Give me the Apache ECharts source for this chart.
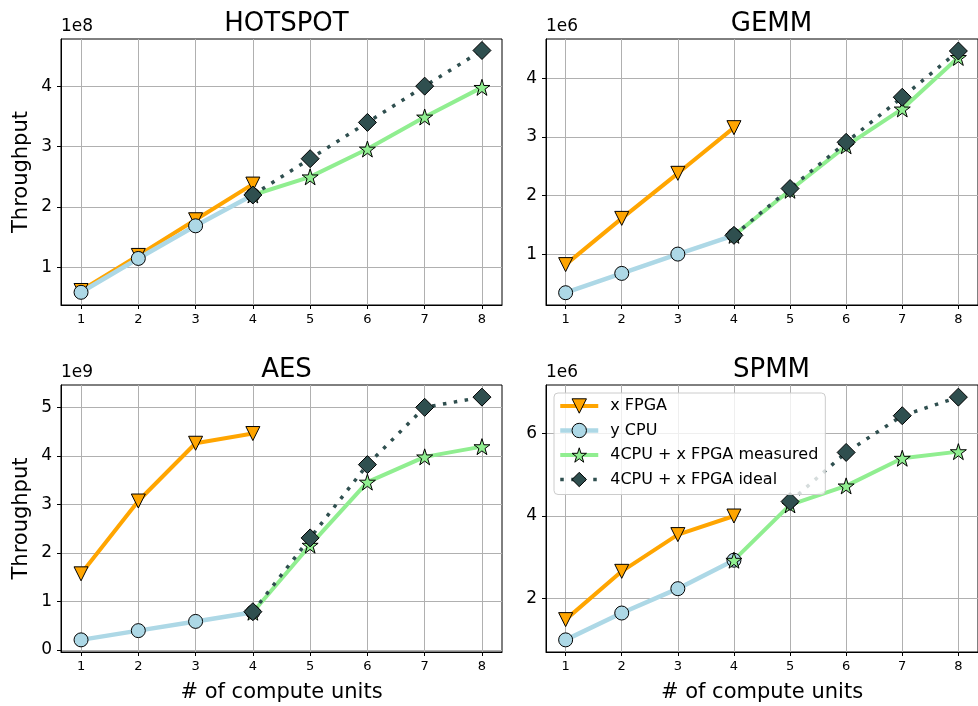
<!DOCTYPE html>
<html>
<head>
<meta charset="utf-8">
<script src="https://cdn.jsdelivr.net/npm/echarts@6/dist/echarts.min.js"></script>
<style>
  html, body { margin: 0; padding: 0; background: #fff; }
  #chart { width: 978px; height: 706px; }
</style>
</head>
<body>
<div id="chart"></div>
<script>
// x = number of compute units
const units = [1, 2, 3, 4, 5, 6, 7, 8]
const unitTicks = [1, 2, 3, 4, 5, 6, 7, 8]

// HOTSPOT (x1e8)
const hotspotFpga = [0.62, 1.2, 1.79, 2.38, null, null, null, null]
const hotspotCpu = [0.59, 1.15, 1.69, 2.2, null, null, null, null]
const hotspotMeasured = [null, null, null, 2.2, 2.5, 2.96, 3.49, 3.98]
const hotspotIdeal = [null, null, null, 2.2, 2.8, 3.4, 4.0, 4.59]
const hotspotTicks = [1, 2, 3, 4]

// GEMM (x1e6)
const gemmFpga = [0.82, 1.61, 2.38, 3.16, null, null, null, null]
const gemmCpu = [0.34, 0.67, 1.0, 1.32, null, null, null, null]
const gemmMeasured = [null, null, null, 1.32, 2.09, 2.85, 3.48, 4.36]
const gemmIdeal = [null, null, null, 1.32, 2.12, 2.91, 3.68, 4.47]
const gemmTicks = [1, 2, 3, 4]

// AES (x1e9)
const aesFpga = [1.57, 3.07, 4.26, 4.46, null, null, null, null]
const aesCpu = [0.21, 0.4, 0.59, 0.78, null, null, null, null]
const aesMeasured = [null, null, null, 0.78, 2.16, 3.46, 3.98, 4.19]
const aesIdeal = [null, null, null, 0.79, 2.31, 3.82, 5.0, 5.21]
const aesTicks = [0, 1, 2, 3, 4, 5]

// SPMM (x1e6)
const spmmFpga = [1.49, 2.66, 3.55, 4.0, null, null, null, null]
const spmmCpu = [1.0, 1.65, 2.24, 2.93, null, null, null, null]
const spmmMeasured = [null, null, null, 2.93, 4.27, 4.73, 5.4, 5.56]
const spmmIdeal = [null, null, null, null, 4.35, 5.54, 6.43, 6.88]
const spmmTicks = [2, 4, 6]

const FONT = 'DejaVu Sans'
const STAR = 'path://M50 0 L61.23 34.55 L97.55 34.55 L68.17 55.9 L79.39 90.45 L50 69.1 L20.61 90.45 L31.83 55.9 L2.45 34.55 L38.77 34.55 Z'

const panels = [
  { title: 'HOTSPOT', scale: '1e8', left: 61, top: 39, h: 266, min: 0.38, max: 4.78, split: 5, ticks: hotspotTicks,
    fpga: hotspotFpga, cpu: hotspotCpu, measured: hotspotMeasured, ideal: hotspotIdeal, yName: true, xName: false },
  { title: 'GEMM', scale: '1e6', left: 546, top: 39, h: 266, min: 0.13, max: 4.675, split: 5, ticks: gemmTicks,
    fpga: gemmFpga, cpu: gemmCpu, measured: gemmMeasured, ideal: gemmIdeal, yName: false, xName: false },
  { title: 'AES', scale: '1e9', left: 61, top: 385, h: 267, min: -0.04, max: 5.46, split: 5, ticks: aesTicks,
    fpga: aesFpga, cpu: aesCpu, measured: aesMeasured, ideal: aesIdeal, yName: true, xName: true },
  { title: 'SPMM', scale: '1e6', left: 546, top: 385, h: 267, min: 0.706, max: 7.174, split: 3, ticks: spmmTicks,
    fpga: spmmFpga, cpu: spmmCpu, measured: spmmMeasured, ideal: spmmIdeal, yName: false, xName: true }
]
const W = 441

const styles = {
  fpga: { color: '#ffa500', width: 4, type: 'solid' },
  cpu: { color: '#add8e6', width: 4.5, type: 'solid' },
  measured: { color: '#90ee90', width: 4, type: 'solid' },
  ideal: { color: '#2f4f4f', width: 3.5, type: [3.5, 7.5] }
}

function pairs (arr) {
  return units.map((x, i) => [x, arr[i]]).filter(d => d[1] != null)
}

const grid = []
const xAxis = []
const yAxis = []
const title = []
const graphic = []
const series = []

panels.forEach((p, i) => {
  grid.push({
    left: p.left, top: p.top, width: W, height: p.h,
    show: true, borderColor: '#000', borderWidth: 1, backgroundColor: 'transparent'
  })
  title.push({
    text: p.title, left: p.left + W / 2, top: p.top - 33, textAlign: 'center',
    textStyle: { fontFamily: FONT, fontSize: 26, fontWeight: 'normal', color: '#000' }
  })
  xAxis.push({
    type: 'value', gridIndex: i, min: 0.65, max: 8.35, splitNumber: 8,
    name: p.xName ? '# of compute units' : '',
    nameLocation: 'middle', nameGap: 30,
    nameTextStyle: { fontFamily: FONT, fontSize: 21, color: '#000' },
    axisLine: { onZero: false, lineStyle: { color: '#000', width: 1 } },
    axisTick: { show: true, length: 4, customValues: unitTicks, lineStyle: { color: '#000' } },
    axisLabel: { customValues: unitTicks, margin: 8, fontFamily: FONT, fontSize: 13, color: '#000' },
    splitLine: { show: true, lineStyle: { color: '#b0b0b0', width: 1 } }
  })
  yAxis.push({
    type: 'value', gridIndex: i, min: p.min, max: p.max, splitNumber: p.split,
    name: p.scale, nameLocation: 'end', nameGap: 4,
    nameTextStyle: { fontFamily: FONT, fontSize: 17, color: '#000', align: 'left', verticalAlign: 'bottom' },
    axisLine: { show: true, onZero: false, lineStyle: { color: '#000', width: 1 } },
    axisTick: { show: true, length: 4, customValues: p.ticks, lineStyle: { color: '#000' } },
    axisLabel: { customValues: p.ticks, margin: 9, fontFamily: FONT, fontSize: 17, color: '#000' },
    splitLine: { show: true, lineStyle: { color: '#b0b0b0', width: 1 } }
  })
  if (p.yName) {
    graphic.push({
      type: 'text', x: 22, y: p.top + p.h / 2, rotation: Math.PI / 2,
      style: { text: 'Throughput', fill: '#000', font: '21px "DejaVu Sans"', align: 'center', verticalAlign: 'middle' }
    })
  }
  series.push(
    {
      name: 'x FPGA', type: 'line', xAxisIndex: i, yAxisIndex: i, data: pairs(p.fpga),
      lineStyle: styles.fpga,
      symbol: 'triangle', symbolRotate: 180, symbolSize: 14,
      itemStyle: { color: '#ffa500', borderColor: '#000', borderWidth: 1 }
    },
    {
      name: 'y CPU', type: 'line', xAxisIndex: i, yAxisIndex: i, data: pairs(p.cpu),
      lineStyle: styles.cpu,
      symbol: 'circle', symbolSize: 14,
      itemStyle: { color: '#add8e6', borderColor: '#000', borderWidth: 1 }
    },
    {
      name: '4CPU + x FPGA measured', type: 'line', xAxisIndex: i, yAxisIndex: i, data: pairs(p.measured),
      lineStyle: styles.measured,
      symbol: STAR, symbolSize: 16,
      itemStyle: { color: '#90ee90', borderColor: '#000', borderWidth: 1 }
    },
    {
      name: '4CPU + x FPGA ideal', type: 'line', xAxisIndex: i, yAxisIndex: i, data: pairs(p.ideal),
      lineStyle: styles.ideal,
      symbol: 'diamond', symbolSize: 18,
      itemStyle: { color: '#2f4f4f', borderColor: '#000', borderWidth: 1 }
    }
  )
})

const chart = echarts.init(document.getElementById('chart'))
chart.setOption({
  animation: false,
  backgroundColor: '#fff',
  textStyle: { fontFamily: FONT },
  title: title,
  graphic: graphic,
  grid: grid,
  xAxis: xAxis,
  yAxis: yAxis,
  legend: {
    orient: 'vertical', left: 554, top: 393,
    itemWidth: 38, itemHeight: 18, itemGap: 8.5,
    padding: [5, 7, 7, 4],
    backgroundColor: 'rgba(255,255,255,0.8)', borderColor: '#cccccc', borderWidth: 1, borderRadius: 4,
    itemStyle: { borderWidth: 1, borderColor: '#000' },
    textStyle: { fontFamily: FONT, fontSize: 16, color: '#000', padding: [0, 0, 0, 7] },
    data: [
      { name: 'x FPGA', lineStyle: { width: 4 } },
      { name: 'y CPU', lineStyle: { width: 4.5 } },
      { name: '4CPU + x FPGA measured', lineStyle: { width: 4 } },
      { name: '4CPU + x FPGA ideal', lineStyle: { width: 3.5 } }
    ]
  },
  series: series
})
</script>
</body>
</html>
